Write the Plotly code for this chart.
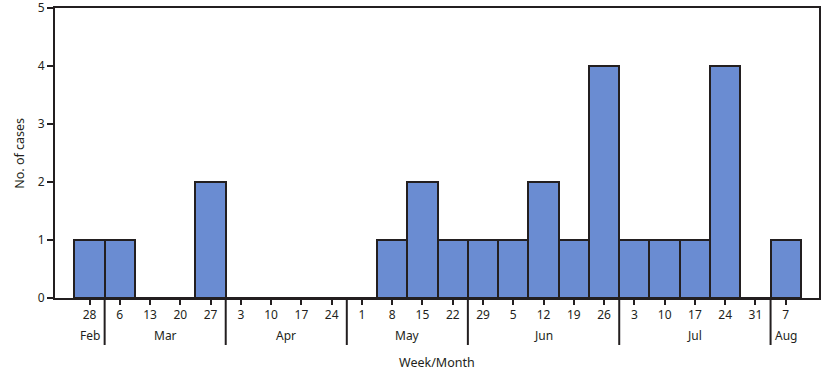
import plotly.graph_objects as go

week_labels = ["28", "6", "13", "20", "27", "3", "10", "17", "24", "1", "8", "15",
               "22", "29", "5", "12", "19", "26", "3", "10", "17", "24", "31", "7"]
cases = [1, 1, 0, 0, 2, 0, 0, 0, 0, 0, 1, 2, 1, 1, 1, 2, 1, 4, 1, 1, 1, 4, 0, 1]
month_names = ["Feb", "Mar", "Apr", "May", "Jun", "Jul", "Aug"]
month_week_counts = [1, 4, 4, 4, 5, 5, 1]

x_idx = list(range(len(week_labels)))
ink = "#231f20"
font_family = "Noto Sans, Open Sans, sans-serif"

fig = go.Figure()
fig.add_trace(go.Bar(
    x=x_idx, y=cases, width=1.0,
    marker=dict(color="#6a8cd2", line=dict(color=ink, width=2)),
    hoverinfo="skip",
))

shapes = []
annotations = []
start = 0
for i, (name, n) in enumerate(zip(month_names, month_week_counts)):
    end = start + n
    center = (start + end - 1) / 2
    annotations.append(dict(x=center, y=-0.13, xref="x", yref="paper", text=name,
                            showarrow=False, font=dict(size=12, color=ink, family=font_family),
                            xanchor="center", yanchor="middle"))
    if i < len(month_names) - 1:
        shapes.append(dict(type="line", xref="x", yref="paper", x0=end - 0.5, x1=end - 0.5,
                           y0=0, y1=-0.162, line=dict(color=ink, width=2)))
    start = end

annotations.append(dict(x=0.5, y=-0.221, xref="paper", yref="paper", text="Week/Month",
                        showarrow=False, font=dict(size=12.5, color=ink, family=font_family),
                        xanchor="center", yanchor="middle"))
annotations.append(dict(x=-0.0475, y=0.5, xref="paper", yref="paper", text="No. of cases",
                        showarrow=False, textangle=-90, font=dict(size=12.5, color=ink, family=font_family),
                        xanchor="center", yanchor="middle"))

fig.update_layout(
    width=826, height=373,
    margin=dict(l=55, r=7, t=8, b=75, autoexpand=False),
    paper_bgcolor="white", plot_bgcolor="white",
    showlegend=False, bargap=0,
    shapes=shapes, annotations=annotations,
    font=dict(family=font_family, size=12, color=ink),
    xaxis=dict(range=[-1.14, 24.1], tickmode="array", tickvals=x_idx, ticktext=week_labels,
               ticks="outside", ticklen=5, tickwidth=2, tickcolor=ink,
               showline=True, linecolor=ink, linewidth=2, mirror=True,
               showgrid=False, zeroline=False, fixedrange=True, automargin=False,
               ticklabeloverflow="allow",
               tickfont=dict(size=12, color=ink, family=font_family)),
    yaxis=dict(range=[0, 5], tickmode="array", tickvals=[0, 1, 2, 3, 4, 5],
               ticks="outside", ticklen=6, tickwidth=2, tickcolor=ink,
               showline=True, linecolor=ink, linewidth=2, mirror=True,
               showgrid=False, zeroline=False, fixedrange=True, automargin=False,
               ticklabeloverflow="allow",
               tickfont=dict(size=12, color=ink, family=font_family)),
)

fig.write_html("out.html", config={"displayModeBar": False},
               post_script="document.body.style.margin='0';document.body.style.overflow='hidden';")
